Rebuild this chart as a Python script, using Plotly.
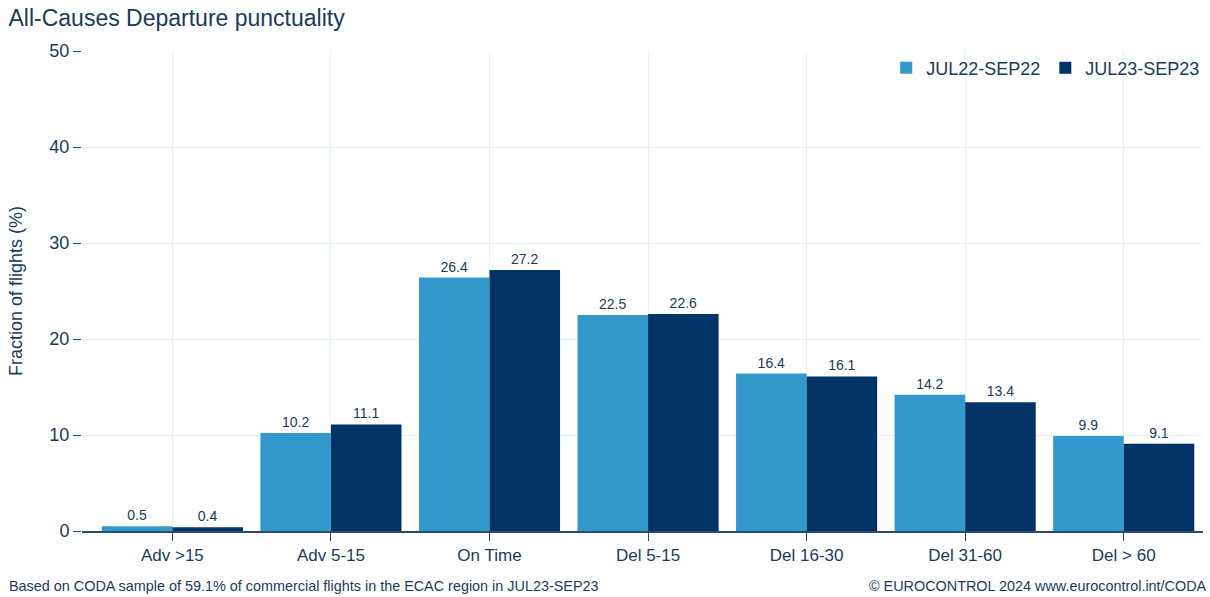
import plotly.graph_objects as go

categories = ["Adv >15", "Adv 5-15", "On Time", "Del 5-15", "Del 16-30", "Del 31-60", "Del > 60"]
series_names = ["JUL22-SEP22", "JUL23-SEP23"]
values_2022 = [0.5, 10.2, 26.4, 22.5, 16.4, 14.2, 9.9]
values_2023 = [0.4, 11.1, 27.2, 22.6, 16.1, 13.4, 9.1]
y_ticks = [0, 10, 20, 30, 40, 50]

LIGHT = "#3399cc"
DARK = "#003366"
TXT = "#1b3a5e"
FONT = "Liberation Sans, Arial, sans-serif"

fig = go.Figure()
for name, vals, col in [(series_names[0], values_2022, LIGHT), (series_names[1], values_2023, DARK)]:
    fig.add_trace(go.Bar(
        x=categories, y=vals, name=name, marker_color=col, marker_line_width=0,
        text=[f"{v:.1f}" for v in vals], textposition="outside",
        textfont=dict(size=14, color=TXT, family=FONT), cliponaxis=False,
    ))

fig.update_layout(
    width=1210, height=597,
    margin=dict(l=82, r=7, t=51, b=66, autoexpand=False),
    paper_bgcolor="white", plot_bgcolor="white",
    barmode="group", bargap=0.11, bargroupgap=0,
    font=dict(family=FONT, color=TXT),
    title=dict(text="All-Causes Departure punctuality", x=0.007, xanchor="left", y=0.97, yanchor="middle",
               font=dict(size=23, color=TXT, family=FONT)),
    legend=dict(orientation="h", x=1.002, xanchor="right", y=1.003, yanchor="top",
                font=dict(size=18, color=TXT), bgcolor="rgba(0,0,0,0)", traceorder="normal",
                itemwidth=30),
    showlegend=True,
)
fig.update_xaxes(
    range=[-0.57, 6.5], showgrid=True, gridcolor="#e4f1f8", gridwidth=1,
    showline=True, linecolor="#2a4a70", linewidth=1.5,
    ticks="outside", ticklen=8, tickcolor="#2a4a70", tickfont=dict(size=17, color=TXT),
    zeroline=False,
)
fig.update_yaxes(
    range=[0, 50], tickvals=y_ticks, showgrid=True, gridcolor="#e4f1f8", gridwidth=1,
    ticks="outside", ticklen=8, tickcolor="#2a4a70", tickfont=dict(size=18, color=TXT),
    showline=False, zeroline=False,
    title=dict(text="Fraction of flights (%)", font=dict(size=18, color=TXT), standoff=22),
)
fig.add_annotation(text="Based on CODA sample of 59.1% of commercial flights in the ECAC region in JUL23-SEP23",
                   xref="paper", yref="paper", x=-0.067, y=-0.115, xanchor="left", yanchor="middle",
                   showarrow=False, font=dict(size=14.4, color=TXT))
fig.add_annotation(text="© EUROCONTROL 2024 www.eurocontrol.int/CODA",
                   xref="paper", yref="paper", x=1.005, y=-0.115, xanchor="right", yanchor="middle",
                   showarrow=False, font=dict(size=14.4, color=TXT))

fig.write_html("out.html")
